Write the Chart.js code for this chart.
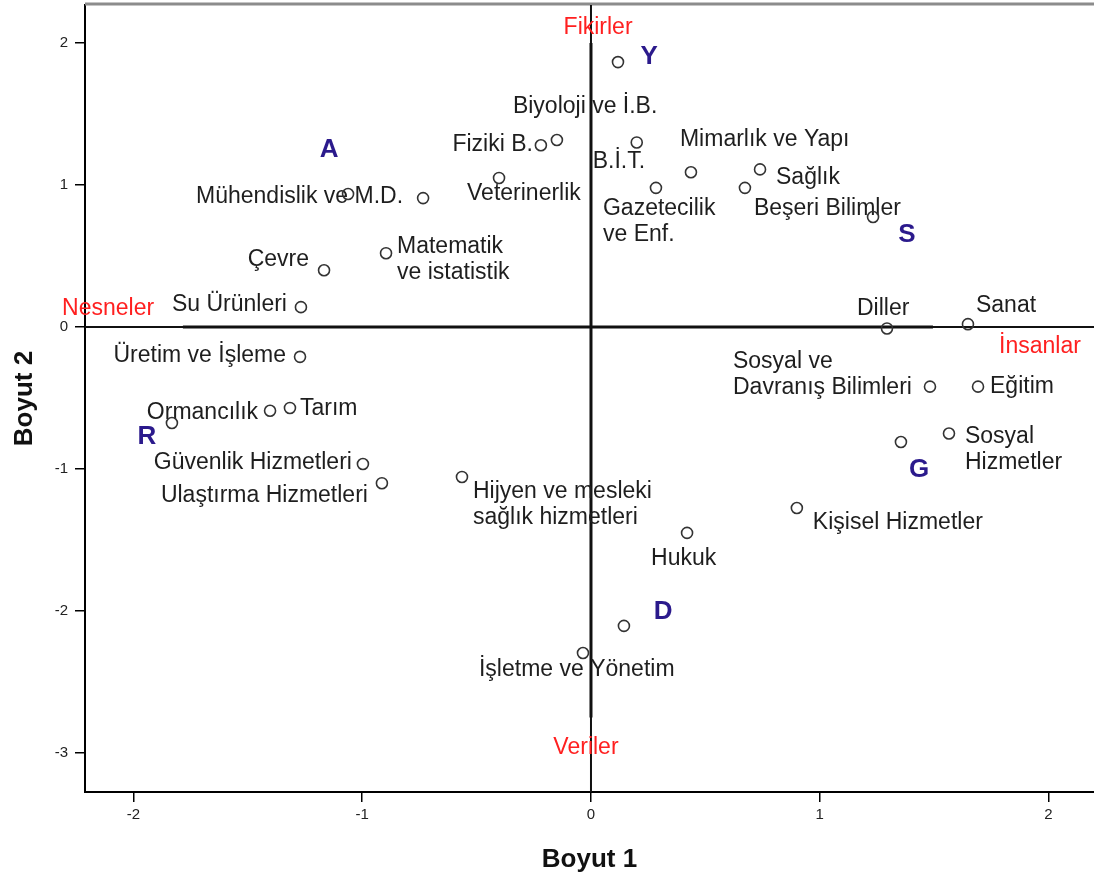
<!DOCTYPE html>
<html>
<head>
<meta charset="utf-8">
<script src="https://cdn.jsdelivr.net/npm/chart.js@4/dist/chart.umd.min.js"></script>
<style>
  body { margin: 0; background: #fff; overflow: hidden; }
  .container { width: 1094px; height: 877px; position: relative; }
</style>
</head>
<body>
<div class="container"><canvas id="graphCanvas"></canvas></div>
<script>
// field names and their position on the two dimensions
const fieldNames = ['', 'Biyoloji ve İ.B.', 'Fiziki B.', 'B.İ.T.', 'Mimarlık ve Yapı', 'Gazetecilik\nve Enf.',
    'Sağlık', 'Beşeri Bilimler', '', 'Veterinerlik', '', 'Mühendislik ve M.D.', 'Çevre',
    'Matematik\nve istatistik', 'Su Ürünleri', 'Üretim ve İşleme', 'Ormancılık', 'Tarım', '',
    'Güvenlik Hizmetleri', 'Ulaştırma Hizmetleri', 'Hijyen ve mesleki\nsağlık hizmetleri', 'Hukuk', '',
    'İşletme ve Yönetim', 'Diller', 'Sanat', 'Sosyal ve\nDavranış Bilimleri', 'Eğitim',
    'Sosyal\nHizmetler', '', 'Kişisel Hizmetler']
const dim1 = [0.118, -0.149, -0.219, 0.20, 0.437, 0.284,
    0.739, 0.673, 1.233, -0.402, -1.062, -0.734, -1.167,
    -0.896, -1.268, -1.272, -1.403, -1.316, -1.832,
    -0.997, -0.914, -0.564, 0.42, 0.144,
    -0.035, 1.294, 1.648, 1.482, 1.692,
    1.565, 1.355, 0.90]
const dim2 = [1.866, 1.317, 1.28, 1.30, 1.09, 0.98,
    1.11, 0.98, 0.775, 1.05, 0.937, 0.908, 0.40,
    0.52, 0.14, -0.21, -0.59, -0.57, -0.676,
    -0.965, -1.10, -1.056, -1.45, -2.105,
    -2.296, -0.01, 0.02, -0.42, -0.42,
    -0.75, -0.81, -1.275]

const xTicks = [-2, -1, 0, 1, 2]
const yTicks = [-3, -2, -1, 0, 1, 2]

// RIASEC group letters
const groupLetters = ['A', 'Y', 'S', 'R', 'G', 'D']
const letterX = [-1.145, 0.254, 1.381, -1.941, 1.434, 0.315]
const letterY = [1.246, 1.901, 0.648, -0.775, -1.007, -2.007]

// pole names at the ends of the axes
const poleNames = ['Fikirler', 'Nesneler', 'İnsanlar', 'Veriler']
const poleX = [0.031, -2.111, 1.963, -0.022]
const poleY = [2.106, 0.127, -0.141, -2.965]

// label placement next to each point: [dx, dy, align] in pixels
const labelOffsets = [null, [-44, -33, 'left'], [-8, -1, 'right'], [-44, 19, 'left'], [-11, -33, 'left'], [-53, 21, 'left'],
    [16, 8, 'left'], [9, 21, 'left'], null, [-32, 16, 'left'], null, [-20, -1, 'right'], [-15, -11, 'right'],
    [11, -7, 'left'], [-14, -2, 'right'], [-14, -1, 'right'], [-12, 2, 'right'], [10, 1, 'left'], null,
    [-11, -1, 'right'], [-14, 12, 'right'], [11, 15, 'left'], [-36, 26, 'left'], null,
    [-104, 17, 'left'], [-30, -20, 'left'], [8, -19, 'left'], [-197, -25, 'left'], [12, 0, 'left'],
    [16, 3, 'left'], null, [16, 15, 'left']]

const fontFamily = '"Liberation Sans", Arial, sans-serif'

let points = []
for (let i = 0; i < dim1.length; i++) {
    points.push({x: dim1[i], y: dim2[i]})
}

function drawLine(ctx, x1, y1, x2, y2) {
    ctx.beginPath()
    ctx.moveTo(x1, y1)
    ctx.lineTo(x2, y2)
    ctx.stroke()
}

// no extra room for the edge tick labels, the plot area is fixed
function fixBox(s, size) {
    if (s.isHorizontal()) s.height = size
    else s.width = size
    s.paddingTop = 0
    s.paddingBottom = 0
    s.paddingLeft = 0
    s.paddingRight = 0
}

const textPlugin = {
    id: 'textPlugin',
    beforeDatasetsDraw(chart) {
        const ctx = chart.ctx
        const xs = chart.scales.x
        const ys = chart.scales.y
        const area = chart.chartArea
        ctx.save()

        // top frame
        ctx.strokeStyle = '#8c8c8c'
        ctx.lineWidth = 3
        drawLine(ctx, area.left, area.top - 1, area.right, area.top - 1)

        // reference lines through 0
        let x0 = xs.getPixelForValue(0)
        let y0 = ys.getPixelForValue(0)
        ctx.strokeStyle = '#111'
        ctx.lineWidth = 2
        drawLine(ctx, x0, area.top, x0, area.bottom)
        drawLine(ctx, area.left, y0, area.right, y0)
        ctx.lineWidth = 3
        drawLine(ctx, x0, ys.getPixelForValue(2.0), x0, ys.getPixelForValue(-2.75))
        drawLine(ctx, xs.getPixelForValue(-1.784), y0, xs.getPixelForValue(1.495), y0)

        // field labels
        ctx.font = '23px ' + fontFamily
        ctx.fillStyle = '#1e1e1e'
        ctx.textBaseline = 'middle'
        for (let i = 0; i < fieldNames.length; i++) {
            if (!fieldNames[i] || !labelOffsets[i]) continue
            let px = xs.getPixelForValue(dim1[i])
            let py = ys.getPixelForValue(dim2[i])
            let off = labelOffsets[i]
            ctx.textAlign = off[2]
            let lines = fieldNames[i].split('\n')
            for (let j = 0; j < lines.length; j++) {
                ctx.fillText(lines[j], px + off[0], py + off[1] + j * 26)
            }
        }

        // group letters
        ctx.font = 'bold 26px ' + fontFamily
        ctx.fillStyle = '#2b1a8c'
        ctx.textAlign = 'center'
        for (let i = 0; i < groupLetters.length; i++) {
            ctx.fillText(groupLetters[i], xs.getPixelForValue(letterX[i]), ys.getPixelForValue(letterY[i]))
        }

        // poles
        ctx.font = '23px ' + fontFamily
        ctx.fillStyle = '#ff2020'
        for (let i = 0; i < poleNames.length; i++) {
            ctx.fillText(poleNames[i], xs.getPixelForValue(poleX[i]), ys.getPixelForValue(poleY[i]))
        }
        ctx.restore()
    }
}

new Chart(document.getElementById('graphCanvas'), {
    type: 'scatter',
    data: {
        datasets: [{
            data: points,
            pointRadius: 5.5,
            pointBorderWidth: 1.6,
            pointBorderColor: '#333',
            pointBackgroundColor: 'rgba(0,0,0,0)',
            pointHoverRadius: 5.5
        }]
    },
    options: {
        responsive: true,
        maintainAspectRatio: false,
        animation: false,
        layout: {autoPadding: false, padding: {top: 5, left: 0, right: 0, bottom: 0}},
        plugins: {legend: {display: false}, tooltip: {enabled: false}},
        scales: {
            x: {
                type: 'linear',
                min: -2.212,
                max: 2.199,
                afterBuildTicks: function (s) { s.ticks = xTicks.map(v => ({value: v})) },
                afterFit: function (s) { fixBox(s, 85) },
                grid: {drawOnChartArea: false, drawTicks: true, tickLength: 10, color: '#000', lineWidth: 1.5},
                border: {color: '#000', width: 2},
                ticks: {font: {size: 15, family: fontFamily}, color: '#222', padding: 4, maxRotation: 0},
                title: {display: true, text: 'Boyut 1', color: '#111', font: {size: 26, weight: 'bold', family: fontFamily}, padding: {top: 0, bottom: 2}}
            },
            y: {
                type: 'linear',
                min: -3.275,
                max: 2.268,
                afterBuildTicks: function (s) { s.ticks = yTicks.map(v => ({value: v})) },
                afterFit: function (s) { fixBox(s, 85) },
                grid: {drawOnChartArea: false, drawTicks: true, tickLength: 10, color: '#000', lineWidth: 1.5},
                border: {color: '#000', width: 2},
                ticks: {font: {size: 15, family: fontFamily}, color: '#222', padding: 7},
                title: {display: true, text: 'Boyut 2', color: '#111', font: {size: 26, weight: 'bold', family: fontFamily}, padding: {top: 9, bottom: 0}}
            }
        }
    },
    plugins: [textPlugin]
})
</script>
</body>
</html>
